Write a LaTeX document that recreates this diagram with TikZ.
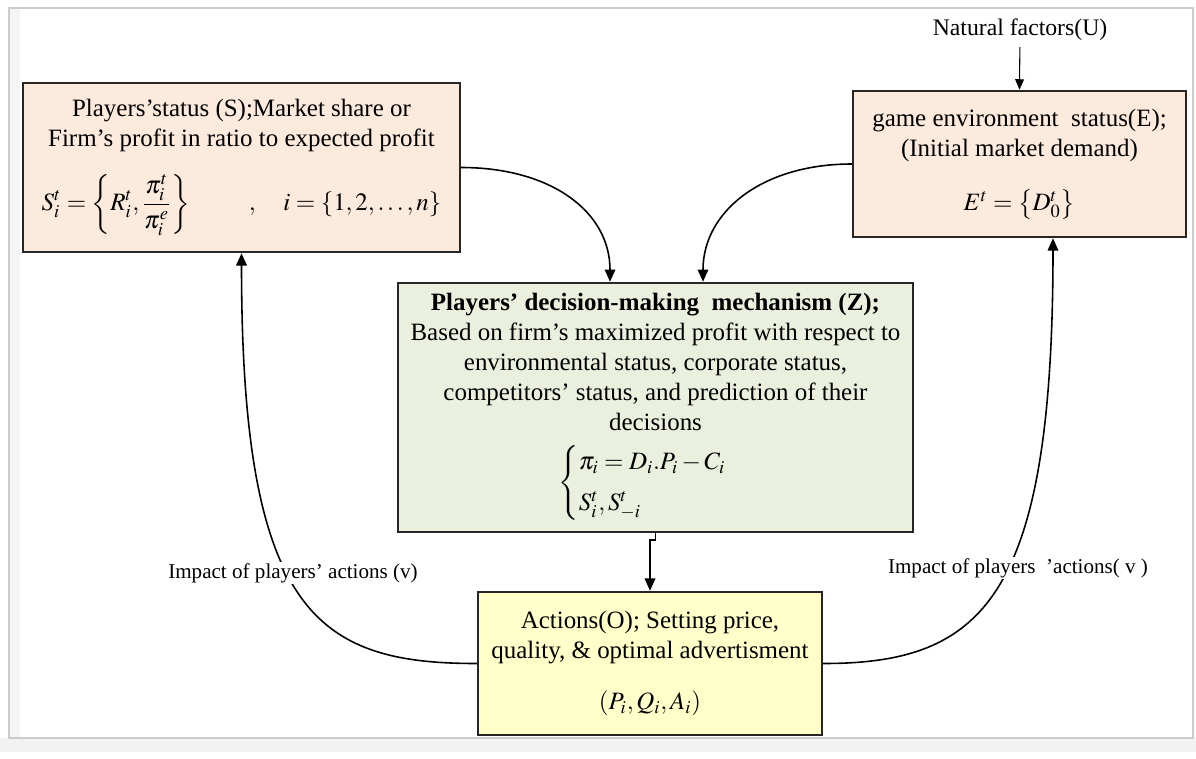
\documentclass[tikz,border=0pt]{standalone}
\usepackage{amsmath}
\usepackage{mathptmx}
\usepackage[no-math]{fontspec}
\setmainfont{Liberation Serif}
\usetikzlibrary{arrows.meta}
\definecolor{peach}{HTML}{FCEADC}
\definecolor{sage}{HTML}{EAF0DD}
\definecolor{lemon}{HTML}{FFFFCA}
\tikzset{
  box/.style={draw=black!85, line width=1.4pt, align=center, inner sep=0pt,
    font=\fontsize{14.2}{17}\selectfont},
  arr/.style={line width=0.9pt, -{Triangle[length=7pt,width=6pt]}},
  impact/.style={fill=white, inner sep=1pt, font=\fontsize{12}{14}\selectfont}
}
\begin{document}
\begin{tikzpicture}[x=0.02cm, y=-0.02cm]
\useasboundingbox (0,0) rectangle (1196,758);
% frame
\fill[gray!10] (0,738) rectangle (1196,752);
\fill[gray!8] (9,8) rectangle (20,738);
\draw[gray!40, line width=0.6pt] (9,8) rectangle (1193,738);

% boxes
\node[box, fill=peach, minimum width=8.74cm, minimum height=3.38cm] (S) at (241.5,167.5)
  {Players’status (S);Market share or\\
   Firm’s profit in ratio to expected profit\\[12pt]
   $\displaystyle S_i^t=\left\{R_i^t,\frac{\pi_i^t}{\pi_i^e}\right\}\qquad\ ,\quad i=\left\{1,2,\ldots,n\right\}$};
\node[box, fill=peach, minimum width=6.66cm, minimum height=2.92cm] (E) at (1019.5,164)
  {game environment\ \ status(E);\\
   (Initial market demand)\\[14pt]
   $E^t=\left\{D_0^t\right\}$};
\node[font=\fontsize{13.5}{15}\selectfont] (U) at (1020,30) {Natural factors(U)};
\node[box, fill=sage, minimum width=10.3cm, minimum height=4.98cm] (Z) at (655.5,407.5)
  {\textbf{Players’ decision-making\ \ mechanism (Z);}\\
   Based on firm’s maximized profit with respect to\\
   environmental status, corporate status,\\
   competitors’ status, and prediction of their\\
   decisions\\[7pt]
   $\begin{cases}\pi_i=D_i.P_i-C_i\\[3pt] S_i^t,S_{-i}^t\end{cases}$};
\node[box, fill=lemon, minimum width=6.88cm, minimum height=2.86cm] (O) at (650,663.5)
  {Actions(O); Setting price,\\
   quality, \& optimal advertisment\\[12pt]
   $(P_i,Q_i,A_i)$};

% connectors
\draw[arr, line width=0.6pt, -{Triangle[length=6pt,width=5pt]}] (U) -- (E.north);
\draw[arr] (S.east) .. controls +(90,0) and +(0,-70) .. ([xshift=-0.91cm]Z.north);
\draw[arr] (E.west) .. controls +(-90,0) and +(0,-70) .. ([xshift=0.95cm]Z.north);
\draw[arr] (Z.south) -- ++(0,7) -| (O.north);
\draw[arr] (O.west) .. controls +(-160,0) and +(0,360) .. (S.south);
\draw[arr] (O.east) .. controls +(160,0) and +(0,360) .. ([xshift=0.67cm]E.south);

% labels
\node[impact] (vl) at (293,573) {Impact of players’ actions (v)};
\node[impact] (vr) at (1018,568) {Impact of players\ \ ’actions(\ v\ )};
\end{tikzpicture}
\end{document}
